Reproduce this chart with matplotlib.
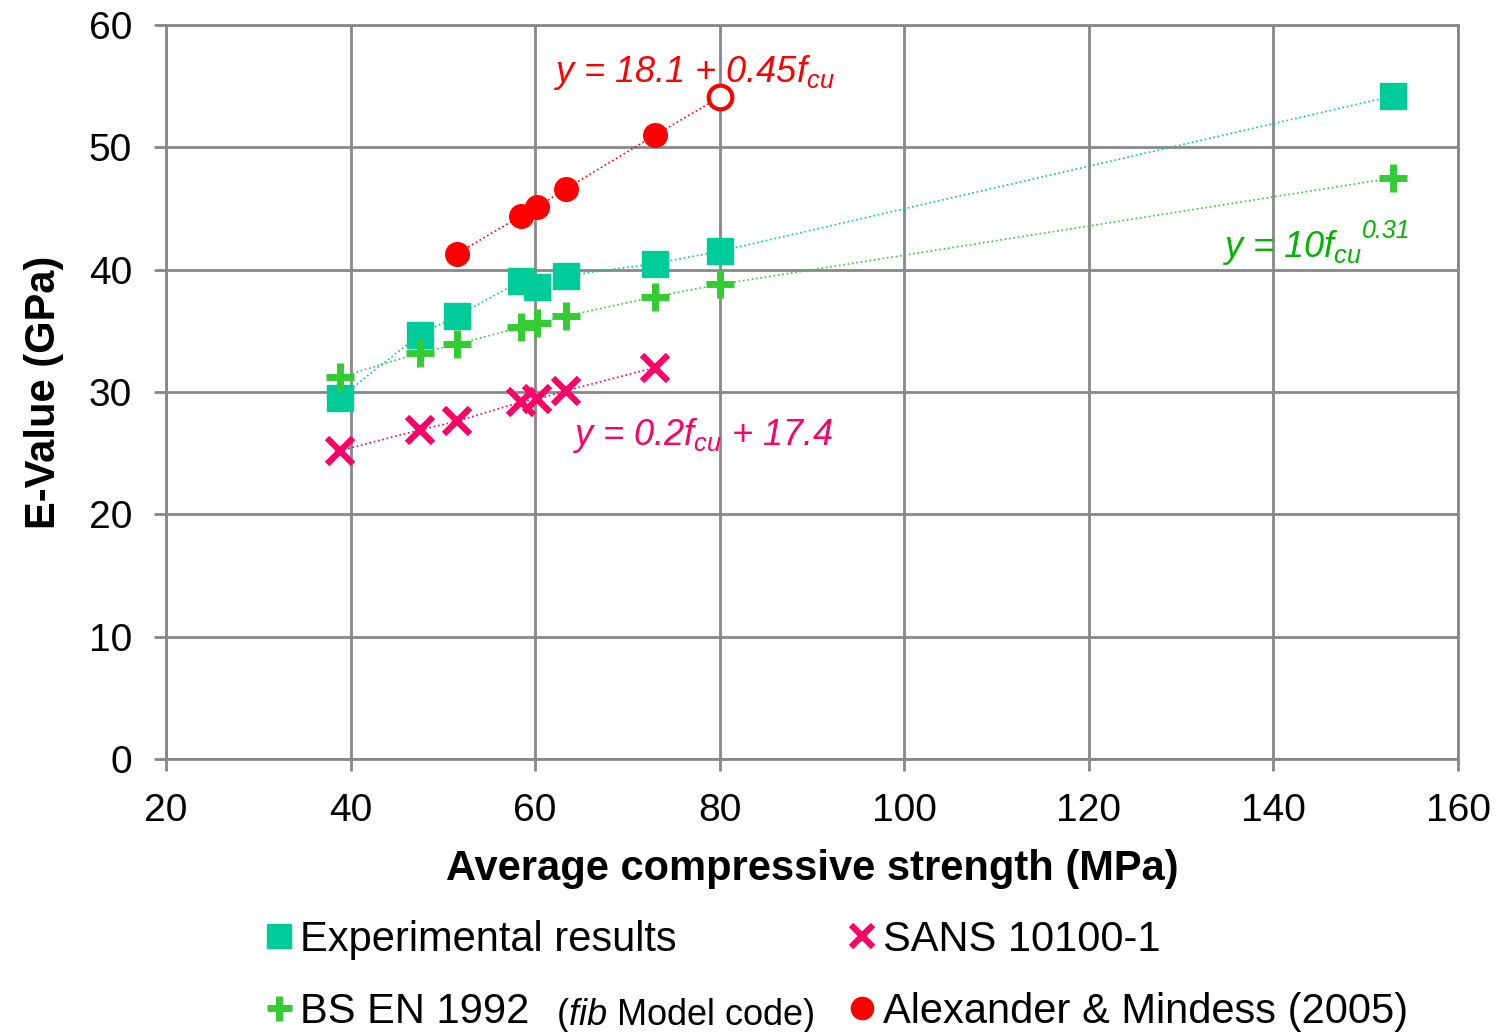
import matplotlib.pyplot as plt
from matplotlib.lines import Line2D

plt.rcParams['font.family'] = ['Liberation Sans', 'DejaVu Sans']
plt.rcParams['mathtext.fontset'] = 'custom'
plt.rcParams['mathtext.rm'] = 'Liberation Sans'
plt.rcParams['mathtext.it'] = 'Liberation Sans:italic'

# data
exp_x = [38.8, 47.5, 51.5, 58.5, 60.2, 63.3, 73.0, 80.0, 153.0]
exp_y = [29.5, 34.7, 36.2, 39.1, 38.6, 39.5, 40.5, 41.5, 54.2]

bs_x = [38.8, 47.5, 51.5, 58.5, 60.2, 63.3, 73.0, 80.0, 153.0]
bs_y = [31.2, 33.2, 33.9, 35.3, 35.6, 36.2, 37.8, 38.8, 47.5]

sans_x = [38.8, 47.5, 51.5, 58.5, 60.2, 63.3, 73.0]
sans_y = [25.2, 26.9, 27.6, 29.2, 29.4, 30.1, 32.0]

am_x = [51.5, 58.5, 60.2, 63.3, 73.0]
am_y = [41.3, 44.4, 45.1, 46.6, 51.0]
am_open_x = [80.0]
am_open_y = [54.1]

c_exp = '#00CC99'
c_bs = '#33CC33'
c_sans = '#FF0066'
c_am = '#FF0000'

fig = plt.figure(figsize=(15.05, 10.32), dpi=100)
ax = fig.add_axes([0.1103, 0.2645, 0.8585, 0.7113])

# dotted trend lines
ax.plot(am_x + am_open_x, am_y + am_open_y, ':', color=c_am, lw=1.2)
ax.plot(exp_x, exp_y, ':', color=c_exp, lw=1.2)
ax.plot(bs_x, bs_y, ':', color=c_bs, lw=1.2)
ax.plot(sans_x, sans_y, ':', color=c_sans, lw=1.2)

ax.plot(am_x, am_y, 'o', color=c_am, ms=17, mec=c_am, ls='none')
ax.plot(am_open_x, am_open_y, 'o', mfc='white', mec=c_am, mew=3, ms=17, ls='none')
ax.plot(exp_x, exp_y, 's', color=c_exp, ms=19, ls='none')
ax.plot(bs_x, bs_y, '+', color=c_bs, ms=20, mew=5, ls='none')
ax.plot(sans_x, sans_y, 'x', color=c_sans, ms=19, mew=4.5, ls='none')

ax.set_xlim(20, 160)
ax.set_ylim(0, 60)
ax.set_xticks(range(20, 161, 20))
ax.set_yticks(range(0, 61, 10))
ax.grid(True, color='#888888', lw=2)
ax.set_axisbelow(True)
for s in ax.spines.values():
    s.set_color('#888888')
    s.set_linewidth(2)
ax.tick_params(labelsize=28, color='#888888', width=2, length=8.5, pad=16)

ax.set_xlabel('Average compressive strength (MPa)', fontsize=30, fontweight='bold', labelpad=14)
ax.set_ylabel('E-Value (GPa)', fontsize=30, fontweight='bold', labelpad=18)

# equation annotations
ax.text(61.9, 55.3, r'y = 18.1 + 0.45f$_{cu}$', color=c_am, fontsize=26, style='italic')
ax.text(64.0, 25.7, r'y = 0.2f$_{cu}$ + 17.4', color=c_sans, fontsize=26, style='italic')
eq = ax.text(134.4, 41.0, r'y = 10f$_{cu}$', color='#00B400', fontsize=26, style='italic')
ax.annotate('0.31', xy=(1.0, 0.62), xycoords=eq, ha='left', va='bottom',
            color='#00B400', fontsize=18, style='italic')

handles = [
    Line2D([], [], marker='s', color=c_exp, ms=17, ls='none'),
    Line2D([], [], marker='+', color=c_bs, ms=18, mew=5, ls='none'),
    Line2D([], [], marker='x', color=c_sans, ms=16, mew=4.5, ls='none'),
    Line2D([], [], marker='o', color=c_am, ms=16, ls='none'),
]
labels = ['Experimental results', 'BS EN 1992', 'SANS 10100-1', 'Alexander & Mindess (2005)']
fig.legend(handles, labels, ncol=2, loc='upper left', bbox_to_anchor=(0.1774, 0.109),
           frameon=False, fontsize=30, handlelength=0.6, handletextpad=0.2,
           columnspacing=4.15, labelspacing=0.78, borderpad=0, borderaxespad=0)
fig.text(0.3694, 0.0068, r'($\it{fib}$ Model code)', fontsize=26, va='baseline')

fig.savefig('out.png', dpi=100)
